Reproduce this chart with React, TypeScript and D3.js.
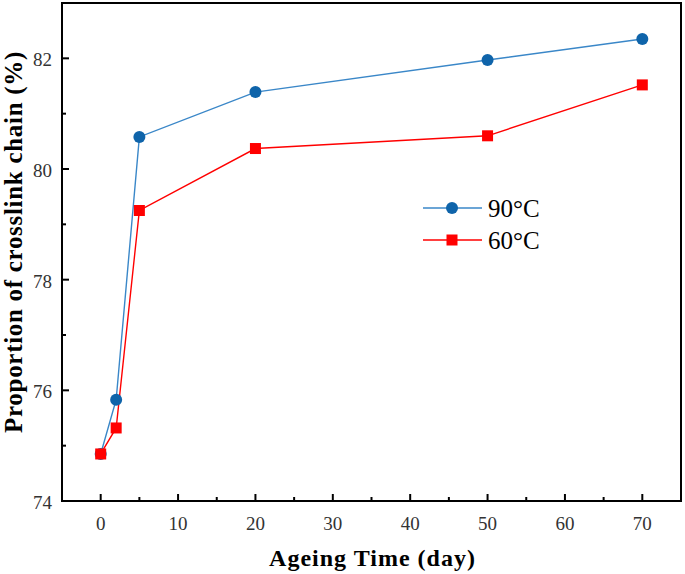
import React from "react";
import * as d3 from "d3";

const days = [0, 2, 5, 20, 50, 70];
const series90 = [74.85, 75.83, 80.58, 81.39, 81.97, 82.35];
const series60 = [74.85, 75.32, 79.25, 80.37, 80.6, 81.52];
const xTicks = [0, 10, 20, 30, 40, 50, 60, 70];
const xMinor = [5, 15, 25, 35, 45, 55, 65];
const yTicks = [74, 76, 78, 80, 82];
const yMinor = [75, 77, 79, 81];

const W = 685, H = 574;
const L = 62, R = 681, T = 3, B = 501;

export default function App() {
  const x = d3.scaleLinear().domain([-5, 75]).range([L, R]);
  const y = d3.scaleLinear().domain([74, 83]).range([B, T]);
  const line = d3.line<number>().x((_, i) => x(days[i])).y((v) => y(v));
  const blue = "#0F64AA";
  const blueLine = "#3A87C8";
  const red = "#FF0000";
  const font = "'Liberation Serif', 'DejaVu Serif', serif";
  return (
    <svg width={W} height={H} style={{ position: "absolute", left: 0, top: 0, background: "#fff" }}>
      <rect x={L} y={T} width={R - L} height={B - T} fill="none" stroke="#000" strokeWidth={2} />
      {xTicks.map((t) => (
        <g key={"x" + t}>
          <line x1={x(t)} x2={x(t)} y1={B} y2={B - 7} stroke="#000" strokeWidth={2} />
          <text x={x(t)} y={530} textAnchor="middle" fontFamily={font} fontSize={19} fill="#333">{t}</text>
        </g>
      ))}
      {xMinor.map((t) => (
        <line key={"xm" + t} x1={x(t)} x2={x(t)} y1={B} y2={B - 4} stroke="#000" strokeWidth={2} />
      ))}
      {yTicks.map((t) => (
        <g key={"y" + t}>
          <line x1={L} x2={L + 7} y1={y(t)} y2={y(t)} stroke="#000" strokeWidth={2} />
          <text x={52} y={y(t) + 8} textAnchor="end" fontFamily={font} fontSize={19} fill="#333">{t}</text>
        </g>
      ))}
      {yMinor.map((t) => (
        <line key={"ym" + t} x1={L} x2={L + 4} y1={y(t)} y2={y(t)} stroke="#000" strokeWidth={2} />
      ))}
      <path d={line(series90) || ""} fill="none" stroke={blueLine} strokeWidth={1.4} />
      <path d={line(series60) || ""} fill="none" stroke={red} strokeWidth={1.4} />
      {series90.map((v, i) => (
        <circle key={"c" + i} cx={x(days[i])} cy={y(v)} r={6} fill={blue} />
      ))}
      {series60.map((v, i) => (
        <rect key={"s" + i} x={x(days[i]) - 5.5} y={y(v) - 5.5} width={11} height={11} fill={red} />
      ))}
      <g>
        <line x1={423} x2={482} y1={208} y2={208} stroke={blueLine} strokeWidth={1.4} />
        <circle cx={452} cy={208} r={6} fill={blue} />
        <text x={488} y={217} fontFamily={font} fontSize={25} fill="#000">90°C</text>
        <line x1={423} x2={482} y1={240} y2={240} stroke={red} strokeWidth={1.4} />
        <rect x={446.5} y={234.5} width={11} height={11} fill={red} />
        <text x={488} y={249} fontFamily={font} fontSize={25} fill="#000">60°C</text>
      </g>
      <text x={372.5} y={566} textAnchor="middle" fontFamily={font} fontSize={24} fontWeight="bold" letterSpacing={1} fill="#000">Ageing Time (day)</text>
      <text transform={`translate(22, 242) rotate(-90)`} textAnchor="middle" fontFamily={font} fontSize={25} fontWeight="bold" letterSpacing={0.7} fill="#000">Proportion of crosslink chain (%)</text>
    </svg>
  );
}
